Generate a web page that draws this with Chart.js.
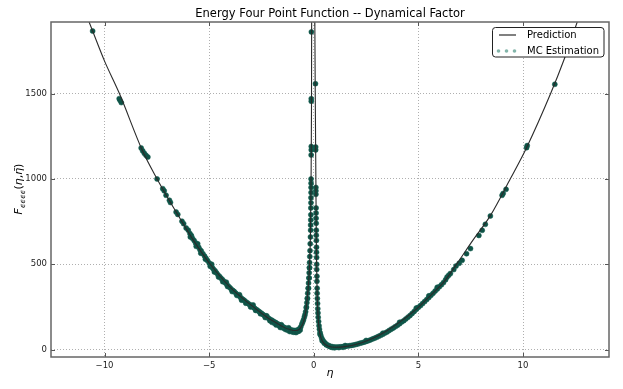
<!DOCTYPE html>
<html><head><meta charset="utf-8">
<script src="https://cdn.jsdelivr.net/npm/chart.js@4.4.1/dist/chart.umd.min.js"></script>
<style>html,body{margin:0;padding:0;background:#fff;}#wrap{width:623px;height:389px;position:relative}</style>
</head><body><div id="wrap"><canvas id="c" width="623" height="389"></canvas></div>
<script>
const titleText = "Energy Four Point Function -- Dynamical Factor";
const xLabel = "η";
const legendLabels = ["Prediction", "MC Estimation"];
const xTicks = [-10, -5, 0, 5, 10];
const yTicks = [0, 500, 1000, 1500];

const predEta = [-10.95,-10.57,-10.0,-9.29,-8.17,-7.49,-6.5,-5.75,-4.95,-4.3,-3.84,-3.04,-2.24,-1.8,-1.44,-1.15,-0.97,-0.8,-0.65,-0.5,-0.4,-0.33,-0.25,-0.2,-0.16,-0.13,-0.11,-0.09,
  0.03,0.05,0.07,0.10,0.12,0.14,0.16,0.19,0.23,0.29,0.37,0.5,0.7,1.03,1.5,2.22,2.8,3.42,4.2,4.97,5.6,6.21,6.85,7.6,8.44,9.4,10.17,11.32,11.95,12.75];
const predF = [1985,1866,1690,1500,1160,1000,790,640,500,405,347,265,190,158,132,118,112,113,125,160,210,280,390,500,680,1000,1400,2600,
  2600,1919,1500,1000,650,470,330,230,150,95,60,35,20,14,18,38,65,105,170,245,320,395,505,640,785,1002,1183,1500,1695,1975];

const mcEta = [
  -10.57,-9.30,-9.26,-9.20,-8.25,-8.18,-8.10,-8.02,-7.93,-7.49,-7.22,-7.15,-7.06,-6.90,-6.85,-6.58,-6.50,-6.30,-6.22,
  -6.10,-6.00,-5.92,-5.85,-5.80,-5.72,-5.65,-5.58,-5.50,-5.44,-5.38,-5.30,-5.22,-5.15,-5.08,-5.00,-4.93,-4.86,-4.80,-4.72,-4.65,-4.58,-4.50,-4.43,-4.36,-4.30,-4.22,-4.15,-4.08,-4.00,
  -3.93,-3.86,-3.80,-3.72,-3.65,-3.58,-3.50,-3.43,-3.36,-3.30,-3.22,-3.15,-3.08,-3.00,-2.93,-2.86,-2.80,-2.72,-2.65,-2.58,-2.50,-2.43,-2.36,-2.30,-2.22,-2.15,-2.08,-2.00,
  -1.93,-1.86,-1.80,-1.72,-1.65,-1.58,-1.50,-1.43,-1.36,-1.30,-1.22,-1.15,-1.08,-1.00,-0.93,-0.86,-0.80,-0.74,-0.68,-0.62,
  -5.90,-5.62,-5.40,-5.18,-4.95,-4.75,-4.55,-4.35,-4.12,-3.90,-3.68,-3.45,-3.25,-3.02,-2.78,-2.55,-2.32,-2.10,-1.88,-1.66,-1.45,-1.25,-1.05,-0.90,-0.78,
  -5.55,-4.88,-4.18,-3.55,-2.90,-2.25,-1.55,-1.20,
  -2.00,-1.80,-1.60,-1.35,-1.15,-0.98,-0.85,-0.72,-0.65,
  -0.57,-0.53,-0.49,-0.45,-0.42,-0.39,-0.36,-0.33,-0.31,-0.29,-0.27,-0.25,-0.23,-0.22,-0.21,-0.20,-0.19,-0.18,-0.17,-0.16,-0.15,-0.15,-0.145,-0.14,-0.14,-0.135,-0.135,-0.13,-0.13,-0.13,-0.13,-0.125,-0.12,-0.12,-0.12,-0.12,-0.115,
  -0.35,-0.30,-0.25,-0.22,-0.20,
  0.08,0.09,0.09,0.10,0.10,0.10,0.11,0.11,0.11,0.115,0.12,0.12,0.125,0.13,0.13,0.135,0.14,0.14,0.15,0.15,0.16,0.16,0.17,0.18,0.19,0.20,0.21,0.23,0.25,0.27,0.30,0.33,0.37,0.42,0.47,0.53,0.60,0.70,0.80,0.90,
  0.30,0.40,0.50,0.60,0.70,0.80,0.90,1.00,1.20,1.40,
  1.0,1.1,1.2,1.3,1.4,1.5,1.6,1.7,1.8,1.9,2.0,2.1,2.2,2.3,2.4,2.5,2.6,2.7,2.8,2.9,3.0,3.1,3.2,3.3,3.4,3.5,3.6,3.7,3.8,3.9,4.0,4.1,4.2,4.3,4.4,4.5,4.6,4.7,4.8,4.9,5.0,5.1,5.2,5.3,5.4,5.5,5.6,5.7,5.8,5.9,6.0,6.1,6.2,6.3,6.37,6.45,6.53,6.69,6.8,6.95,
  1.5,2.5,3.3,4.1,4.9,5.5,5.9,
  7.09,7.3,7.49,7.89,8.05,8.2,8.44,9.0,9.05,9.19,10.17,10.2,11.52
];
const mcF = [
  1866,1470,1460,1447,1181,1165,1150,1138,1128,1000,943,930,904,875,862,806,792,752,738,
  712,700,680,668,652,640,625,612,600,585,578,562,548,535,522,508,495,482,472,462,450,438,428,418,410,400,390,380,372,362,
  352,346,340,330,322,315,306,298,292,286,278,272,265,260,252,246,240,233,226,220,213,206,200,196,188,183,177,172,
  166,161,157,151,146,141,136,131,127,124,120,117,115,113,112,112,113,117,123,134,
  660,605,565,530,488,455,425,398,370,340,318,290,272,250,230,210,188,170,154,140,126,114,106,104,106,
  620,500,395,322,262,198,146,128,
  160,145,130,118,106,102,100,108,115,
  150,162,175,192,205,222,245,275,300,330,360,390,420,450,480,510,545,580,620,660,700,730,760,790,830,860,890,920,950,975,1000,1140,1170,1190,1455,1470,1861,
  250,300,360,420,480,
  1558,1187,1170,950,930,910,830,800,770,740,700,670,640,600,570,540,500,470,430,400,360,330,300,270,240,215,190,165,140,120,100,85,70,58,48,40,32,25,20,17,
  90,52,38,28,22,16,12,11,12,14,
  15,15,16,17,18,19,21,23,25,27,30,33,37,40,44,48,52,57,62,67,72,78,84,90,97,104,112,120,127,135,143,152,162,170,180,190,200,212,224,236,248,258,270,282,294,306,318,330,343,355,368,380,393,410,425,436,446,469,490,506,
  24,54,96,160,244,315,365,
  523,562,592,669,699,734,783,904,915,939,1183,1195,1554
];

const FONT = '"DejaVu Sans", "Liberation Sans", sans-serif';
const predData = predEta.map((x, i) => ({x, y: predF[i]}));
const mcData = mcEta.map((x, i) => ({x, y: mcF[i]}));

const decor = {
  id: 'decor',
  afterDraw(chart) {
    const ctx = chart.ctx, a = chart.chartArea;
    ctx.save();
    ctx.strokeStyle = '#555'; ctx.lineWidth = 1;
    const xs = chart.scales.x, ys = chart.scales.y;
    xTicks.forEach(v => {
      const px = Math.round(xs.getPixelForValue(v)) + 0.5;
      ctx.beginPath(); ctx.moveTo(px, a.bottom); ctx.lineTo(px, a.bottom - 4);
      ctx.moveTo(px, a.top); ctx.lineTo(px, a.top + 4); ctx.stroke();
    });
    yTicks.forEach(v => {
      const py = Math.round(ys.getPixelForValue(v)) + 0.5;
      ctx.beginPath(); ctx.moveTo(a.left, py); ctx.lineTo(a.left + 4, py);
      ctx.moveTo(a.right, py); ctx.lineTo(a.right - 4, py); ctx.stroke();
    });
    ctx.strokeStyle = '#666'; ctx.lineWidth = 1.5;
    ctx.strokeRect(a.left, a.top, a.right - a.left, a.bottom - a.top);
    ctx.fillStyle = '#000';
    ctx.font = '11.5px ' + FONT;
    ctx.textAlign = 'center'; ctx.textBaseline = 'alphabetic';
    ctx.fillText(titleText, (a.left + a.right) / 2, 17);
    ctx.font = 'italic 11px ' + FONT;
    ctx.fillText(xLabel, (a.left + a.right) / 2, 376);
    ctx.save();
    ctx.translate(19, 189);
    ctx.rotate(-Math.PI / 2);
    const pieces = [
      {t: 'F', f: 'italic 11px ' + FONT, dy: 0},
      {t: 'ϵϵϵϵ', f: 'italic 7.5px ' + FONT, dy: 2.5},
      {t: '(', f: '11px ' + FONT, dy: 0},
      {t: 'η', f: 'italic 11px ' + FONT, dy: 0},
      {t: ',', f: '11px ' + FONT, dy: 0},
      {t: 'η̄', f: 'italic 11px ' + FONT, dy: 0},
      {t: ')', f: '11px ' + FONT, dy: 0}
    ];
    let total = 0;
    pieces.forEach(p => { ctx.font = p.f; p.w = ctx.measureText(p.t).width; total += p.w; });
    let cx = -total / 2;
    ctx.textAlign = 'left';
    pieces.forEach(p => { ctx.font = p.f; ctx.fillText(p.t, cx, 3 + p.dy); cx += p.w; });
    ctx.restore();
    const lx = 492.5, ly = 27.5, lw = 111.5, lh = 29.5;
    ctx.beginPath();
    ctx.roundRect(lx, ly, lw, lh, 3);
    ctx.fillStyle = '#fff'; ctx.fill();
    ctx.strokeStyle = '#222'; ctx.lineWidth = 1; ctx.stroke();
    ctx.strokeStyle = '#2a2a2a'; ctx.lineWidth = 1.2;
    ctx.beginPath(); ctx.moveTo(499, 35); ctx.lineTo(516, 35); ctx.stroke();
    ctx.fillStyle = 'rgba(30,120,100,0.55)';
    [498.5, 506.5, 514.5].forEach(x => { ctx.beginPath(); ctx.arc(x, 51, 1.8, 0, Math.PI * 2); ctx.fill(); });
    ctx.fillStyle = '#000';
    ctx.font = '10px ' + FONT;
    ctx.textAlign = 'left'; ctx.textBaseline = 'middle';
    ctx.fillText(legendLabels[0], 527, 35);
    ctx.fillText(legendLabels[1], 527, 51);
    ctx.restore();
  }
};

const fmt = v => String(v).replace('-', '\u2212');

new Chart(document.getElementById('c'), {
  type: 'scatter',
  data: {
    datasets: [
      {
        label: legendLabels[0], data: predData, showLine: true,
        borderColor: '#2a2a2a', borderWidth: 1.1, pointRadius: 0, pointHoverRadius: 0,
        cubicInterpolationMode: 'monotone', tension: 0.4, capBezierPoints: false, fill: false
      },
      {
        label: legendLabels[1], data: mcData,
        pointRadius: 2.5, pointBackgroundColor: '#0f5246', pointBorderColor: 'rgba(20,95,80,0.55)', pointBorderWidth: 1
      }
    ]
  },
  options: {
    responsive: false, animation: false, devicePixelRatio: 1,
    layout: {padding: {top: 22, right: 14, left: 0, bottom: 0}},
    plugins: {legend: {display: false}, title: {display: false}, tooltip: {enabled: false}},
    scales: {
      x: {
        type: 'linear', min: -12.56, max: 14.11,
        afterBuildTicks: s => { s.ticks = xTicks.map(v => ({value: v})); },
        afterFit: s => { s.height = 32; },
        grid: {color: '#9a9a9a', lineWidth: 0.8, drawTicks: false},
        border: {display: false, dash: [1, 2]},
        ticks: {callback: fmt, font: {family: FONT, size: 8.5}, color: '#222', padding: 4, maxRotation: 0}
      },
      y: {
        type: 'linear', min: -43, max: 1919,
        afterBuildTicks: s => { s.ticks = yTicks.map(v => ({value: v})); },
        afterFit: s => { s.width = 51; },
        grid: {color: '#9a9a9a', lineWidth: 0.8, drawTicks: false},
        border: {display: false, dash: [1, 2]},
        ticks: {callback: fmt, font: {family: FONT, size: 8.5}, color: '#222', padding: 4}
      }
    }
  },
  plugins: [decor]
});
</script>
</body></html>
